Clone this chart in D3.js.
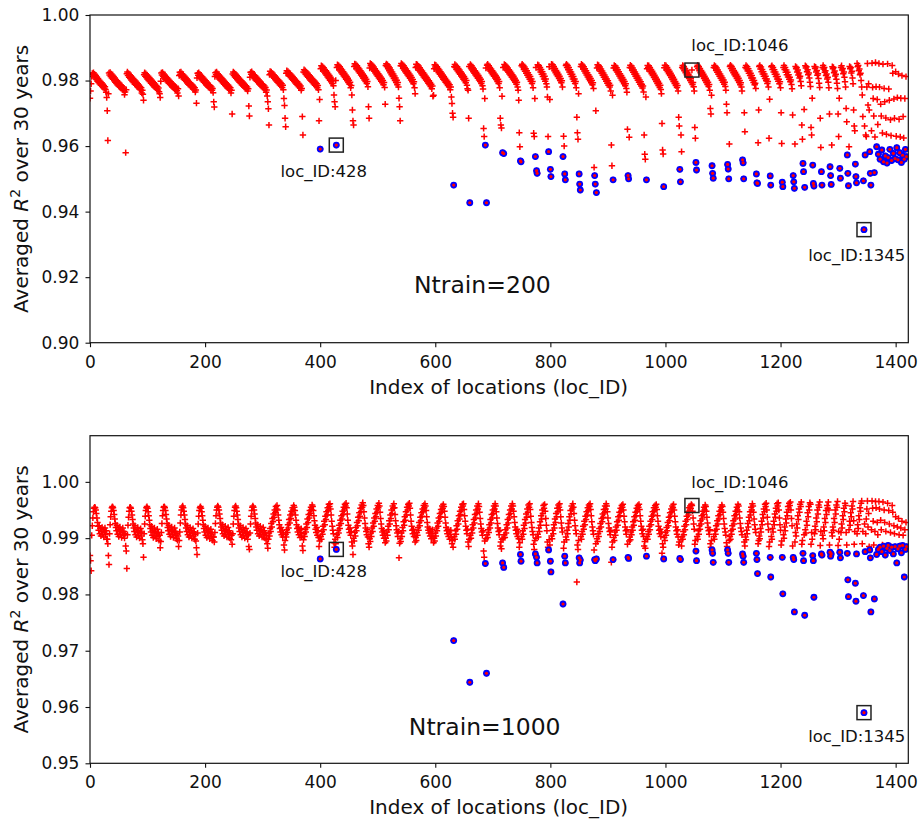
<!DOCTYPE html>
<html>
<head>
<meta charset="utf-8">
<script src="https://cdn.jsdelivr.net/npm/d3@7"></script>
<style>
  body { margin: 0; background: #fff; }
  svg { display: block; }
  text { font-family: "DejaVu Sans", sans-serif; fill: #111; }
</style>
</head>
<body>
<svg id="chart" width="919" height="821"></svg>
<script>
// Averaged R² over 30 years per location, stored as R² × 10⁴.
// Each block is [first loc_ID, values for consecutive loc_IDs].
const blocksNtrain200 = [
  [0,    [9746,9768,9790,9812,9822,9818,9824,9813,9819,9808,9815,9803,9811,9798,9806,9794,9801,9790,9797,9786,9793,9782,9789,9779,9785,9776,9781,9773,9764,9748]],
  [30,   [9708,9617,9760,9823,9817,9825,9812,9820,9808,9816,9804,9812,9799,9808,9795,9803,9791,9799,9787,9795,9783,9791,9780,9787,9776,9784,9773,9780,9770,9776,9757,9765]],
  [62,   [9580,9772,9821,9826,9815,9822,9810,9818,9806,9814,9802,9810,9797,9806,9793,9802,9789,9798,9786,9794,9782,9790,9779,9786,9775,9782,9772,9778,9762,9770]],
  [92,   [9758,9740,9818,9824,9813,9821,9809,9817,9805,9813,9800,9809,9796,9805,9792,9801,9788,9797,9785,9793,9781,9789,9778,9785,9774,9781,9771,9777,9766,9760]],
  [122,  [9748,9798,9823,9817,9825,9812,9820,9808,9816,9804,9812,9800,9808,9796,9804,9792,9800,9788,9796,9785,9792,9781,9789,9778,9785,9775,9782,9772,9779,9769,9762,9775]],
  [154,  [9753,9815,9825,9819,9826,9813,9821,9809,9817,9805,9813,9801,9809,9797,9805,9793,9801,9789,9797,9786,9793,9782,9789,9779,9786,9775,9782,9772,9778,9765,9771]],
  [185,  [9731,9808,9822,9816,9824,9811,9819,9807,9815,9803,9811,9799,9807,9795,9803,9791,9799,9787,9795,9784,9791,9780,9787,9777,9784,9773,9780,9770,9776,9763]],
  [215,  [9735,9719,9812,9824,9818,9826,9813,9821,9809,9817,9805,9813,9801,9809,9797,9805,9793,9801,9789,9797,9785,9793,9782,9789,9778,9786,9775,9782,9772,9778,9762,9770]],
  [247,  [9698,9820,9826,9815,9823,9811,9819,9807,9815,9803,9811,9799,9807,9795,9803,9791,9799,9787,9795,9784,9791,9780,9788,9777,9784,9774,9780,9768,9775]],
  [276,  [9722,9692,9810,9825,9819,9827,9814,9822,9810,9818,9806,9814,9802,9810,9798,9806,9794,9802,9790,9798,9787,9794,9783,9790,9779,9787,9776,9783,9773,9779,9764,9771]],
  [308,  [9753,9735,9714,9664,9818,9828,9821,9826,9815,9822,9811,9818,9807,9814,9803,9810,9799,9806,9795,9802,9791,9798,9787,9794,9783,9790,9779,9786,9772]],
  [337,  [9745,9724,9685,9659,9822,9830,9823,9828,9817,9824,9813,9820,9809,9816,9805,9812,9801,9808,9797,9804,9793,9800,9789,9796,9785,9792,9781,9788,9777,9783,9770,9776]],
  [369,  [9690,9634,9826,9833,9824,9830,9819,9826,9814,9822,9810,9818,9806,9814,9802,9810,9798,9806,9794,9802,9790,9798,9786,9794,9782,9790,9778,9785,9772]],
  [398,  [9677,9742,9591,9836,9845,9838,9843,9831,9839,9826,9834,9821,9830,9816,9825,9811,9820,9806,9815,9801,9810,9796,9805,9791,9799,9784]],
  [424,  [9756,9735,9720,9800,9603,9840,9848,9841,9846,9834,9842,9829,9837,9824,9832,9819,9827,9814,9822,9809,9817,9804,9812,9799,9807,9794,9801,9789,9795,9778,9785]],
  [455,  [9756,9710,9677,9664,9843,9851,9844,9849,9837,9845,9832,9840,9827,9835,9822,9830,9817,9825,9812,9820,9807,9815,9802,9810,9797,9804,9791,9797,9781]],
  [484,  [9720,9685,9838,9852,9845,9850,9838,9846,9833,9841,9828,9836,9823,9831,9818,9826,9813,9821,9808,9816,9803,9811,9798,9806,9793,9800,9787,9794,9779]],
  [513,  [9728,9846,9851,9842,9848,9836,9843,9830,9838,9824,9832,9818,9826,9812,9820,9806,9814,9800,9808,9794,9801,9787,9794,9780]],
  [537,  [9746,9720,9677,9845,9852,9844,9849,9837,9845,9832,9840,9827,9835,9822,9830,9817,9825,9812,9820,9807,9815,9802,9809,9796,9803,9790,9796,9778]],
  [565,  [9760,9840,9850,9843,9848,9836,9844,9831,9839,9826,9834,9821,9829,9816,9824,9811,9819,9806,9814,9802,9809,9797,9804,9792,9799,9787,9794,9782,9789,9775,9783,9752]],
  [597,  [9755,9836,9848,9841,9847,9834,9842,9829,9837,9824,9832,9819,9827,9814,9822,9809,9817,9804,9812,9800,9807,9795,9802,9790,9797,9785,9792,9780,9787,9772,9780,9750]],
  [629,  [9730,9700,9688,9481,9842,9849,9840,9846,9834,9842,9829,9837,9824,9832,9819,9827,9814,9822,9809,9817,9804,9812,9799,9806,9793,9800,9786,9775]],
  [657,  [9770,9685,9843,9427,9849,9838,9845,9832,9840,9827,9835,9822,9830,9817,9825,9812,9820,9807,9815,9802,9809,9797,9804,9791,9797,9784,9774]],
  [684,  [9654,9629,9745,9603,9838,9427,9847,9850,9839,9845,9833,9840,9828,9835,9823,9830,9818,9825,9813,9820,9808,9815,9803,9810,9797,9804,9791,9797,9778]],
  [713,  [9685,9664,9655,9752,9580,9840,9577,9849,9842,9847,9835,9843,9830,9838,9825,9833,9820,9828,9815,9823,9810,9818,9805,9813,9800,9807,9795,9801,9789,9795,9780,9770]],
  [745,  [9740,9641,9598,9555,9552,9845,9850,9841,9846,9834,9841,9828,9836,9822,9830,9816,9824,9810,9818,9804,9812,9798,9805,9791,9797,9778]],
  [771,  [9639,9629,9745,9568,9840,9525,9517,9848,9841,9846,9833,9840,9826,9834,9819,9827,9812,9820,9805,9813,9798,9805,9790,9780]],
  [795,  [9750,9629,9583,9842,9742,9529,9507,9850,9843,9848,9836,9843,9830,9837,9824,9831,9818,9825,9812,9819,9806,9813,9800,9806,9793,9799,9780]],
  [822,  [9568,9630,9600,9515,9497,9846,9850,9840,9846,9833,9840,9826,9833,9819,9826,9812,9819,9805,9812,9798,9805,9791,9797,9778]],
  [846,  [9688,9641,9621,9760,9515,9484,9466,9843,9850,9842,9847,9835,9842,9829,9836,9823,9830,9817,9824,9811,9818,9805,9812,9799,9806,9793,9800,9787,9793,9776]],
  [876,  [9535,9510,9484,9708,9458,9838,9848,9841,9846,9834,9841,9828,9835,9822,9829,9816,9823,9810,9817,9804,9811,9798,9805,9792,9799,9786,9792,9780,9786,9768]],
  [906,  [9603,9540,9755,9497,9838,9846,9839,9844,9832,9839,9826,9833,9820,9827,9814,9821,9808,9815,9802,9809,9796,9803,9790,9797,9784,9790,9776,9764]],
  [934,  [9651,9510,9500,9627,9840,9847,9838,9844,9831,9838,9825,9832,9819,9826,9813,9820,9807,9814,9801,9808,9795,9802,9789,9796,9783,9789,9777,9783,9765]],
  [963,  [9634,9575,9560,9750,9497,9836,9846,9840,9845,9833,9840,9827,9834,9821,9828,9815,9822,9809,9816,9803,9810,9797,9804,9791,9798,9785,9792,9779,9786,9773,9760]],
  [994,  [9669,9588,9576,9476,9839,9847,9840,9845,9833,9840,9827,9834,9821,9828,9815,9822,9809,9816,9803,9810,9797,9804,9791,9797,9785,9791,9779,9785,9768]],
  [1023, [9688,9661,9529,9491,9634,9583,9840,9846,9836,9843,9830,9837,9824,9831,9818,9825,9812,9819,9806,9813,9800,9807,9794,9832,9788,9794,9781,9768]],
  [1051, [9657,9624,9550,9527,9842,9847,9837,9843,9830,9837,9824,9831,9818,9825,9812,9819,9806,9813,9800,9807,9794,9801,9788,9795,9782,9788,9770]],
  [1078, [9715,9698,9755,9540,9517,9502,9840,9846,9838,9843,9831,9838,9825,9832,9819,9826,9813,9820,9807,9814,9801,9808,9795,9802,9789,9795,9782,9770]],
  [1106, [9728,9702,9544,9530,9500,9606,9843,9847,9837,9843,9830,9837,9824,9831,9818,9825,9812,9819,9806,9813,9800,9807,9794,9800,9787,9793,9780,9768]],
  [1134, [9558,9549,9500,9702,9644,9840,9846,9836,9842,9829,9836,9822,9829,9815,9822,9808,9815,9801,9808,9794,9800,9787,9792,9776]],
  [1158, [9515,9488,9486,9610,9710,9843,9846,9835,9841,9827,9834,9820,9827,9813,9820,9806,9813,9799,9805,9791,9797,9780]],
  [1180, [9624,9743,9509,9481,9842,9845,9834,9840,9826,9833,9819,9826,9812,9819,9805,9812,9798,9804,9790,9796,9778]],
  [1201, [9702,9608,9490,9476,9840,9846,9834,9840,9825,9832,9818,9825,9811,9818,9804,9810,9796,9802,9788,9775]],
  [1221, [9695,9510,9491,9471,9606,9843,9836,9840,9826,9832,9817,9823,9808,9813,9797,9784]],
  [1237, [9664,9621,9547,9522,9712,9474,9845,9838,9842,9827,9833,9818,9823,9808,9795,9782]],
  [1253, [9657,9634,9746,9542,9486,9478,9843,9837,9841,9826,9831,9816,9821,9806,9792,9779]],
  [1269, [9685,9596,9522,9481,9840,9846,9835,9840,9825,9830,9815,9820,9805,9810,9795,9778]],
  [1285, [9698,9537,9510,9483,9603,9842,9836,9840,9824,9829,9814,9819,9804,9792,9776]],
  [1300, [9698,9629,9746,9532,9502,9840,9845,9832,9837,9821,9826,9810,9796,9780]],
  [1314, [9715,9674,9573,9517,9479,9598,9843,9836,9840,9823,9828,9808,9790]],
  [1327, [9710,9661,9647,9545,9507,9488,9852,9842,9846,9830,9835,9818,9822,9800,9780]],
  [1342, [9756,9690,9494,9345,9661,9573,9634,9629,9780,9852,9725,9790,9710]],
  [1355, [9583,9517,9481,9647,9853,9779,9745,9692,9519,9628,9855,9781,9598,9742,9666]],
  [1370, [9575,9852,9780,9560,9728,9692,9588,9640,9850,9552,9776,9735,9570,9686,9636,9548,9851]],
  [1387, [9565,9774,9740,9590,9680,9632,9556,9846,9822,9578,9744,9685,9562,9827,9630,9595,9748]],
  [1404, [9558,9820,9682,9580,9628,9746,9550,9815,9572,9690,9625,9560,9745,9590,9812,9568]]
];

const blocksNtrain1000 = [
  [0,    [9869,9860,9842,9905,9922,9936,9947,9953,9955,9954,9950,9944,9936,9928,9921,9914,9922,9908,9917,9904,9912,9919,9907,9915,9902,9911,9918,9906,9913,9898]],
  [30,   [9898,9890,9869,9853,9908,9924,9938,9948,9954,9956,9954,9949,9942,9934,9926,9919,9913,9923,9907,9916,9903,9912,9920,9906,9914,9901,9910,9918,9905,9912,9900,9908]],
  [62,   [9886,9877,9846,9906,9923,9937,9948,9954,9955,9953,9948,9941,9933,9925,9918,9912,9922,9906,9915,9902,9911,9919,9905,9913,9900,9909,9917,9904,9911,9897]],
  [92,   [9890,9866,9908,9925,9939,9949,9954,9956,9953,9947,9940,9932,9924,9917,9911,9921,9905,9914,9901,9910,9918,9904,9912,9899,9908,9916,9903,9910,9896,9905]],
  [122,  [9883,9894,9910,9926,9940,9949,9955,9956,9954,9949,9942,9934,9926,9919,9913,9923,9907,9916,9903,9912,9920,9906,9914,9901,9910,9918,9905,9912,9899,9908,9896,9904]],
  [154,  [9885,9896,9911,9927,9941,9950,9955,9957,9954,9948,9941,9933,9925,9918,9912,9922,9906,9915,9902,9911,9919,9905,9913,9900,9909,9917,9904,9911,9898,9907,9895]],
  [185,  [9883,9871,9909,9925,9939,9949,9954,9956,9953,9947,9940,9932,9924,9917,9911,9921,9905,9914,9901,9910,9918,9904,9912,9899,9908,9916,9903,9910,9896,9902]],
  [215,  [9902,9893,9910,9926,9940,9950,9955,9957,9955,9950,9943,9935,9927,9920,9914,9924,9908,9917,9904,9913,9921,9907,9915,9902,9911,9919,9906,9913,9900,9909,9897,9905]],
  [247,  [9889,9908,9925,9939,9949,9955,9957,9954,9948,9941,9933,9925,9918,9912,9922,9906,9915,9902,9911,9919,9905,9913,9900,9909,9917,9904,9911,9898,9906]],
  [276,  [9885,9880,9909,9925,9939,9949,9955,9957,9955,9950,9943,9935,9927,9920,9914,9924,9908,9917,9904,9913,9921,9907,9915,9902,9911,9919,9906,9913,9900,9909,9897,9905]],
  [308,  [9890,9882,9898,9909,9904,9917,9912,9926,9920,9935,9929,9943,9937,9950,9945,9956,9952,9958,9950,9941,9932,9924,9917,9911,9919,9906,9914,9902,9909]],
  [337,  [9888,9879,9896,9907,9902,9915,9910,9924,9918,9933,9927,9941,9935,9948,9943,9954,9950,9958,9955,9949,9941,9932,9924,9917,9911,9920,9906,9914,9901,9910,9917,9904]],
  [369,  [9886,9878,9897,9908,9903,9916,9911,9925,9919,9934,9928,9942,9936,9949,9944,9955,9951,9959,9956,9949,9940,9931,9923,9916,9910,9919,9905,9913,9901]],
  [398,  [9885,9895,9863,9903,9898,9912,9907,9921,9915,9930,9924,9939,9933,9947,9941,9954,9949,9960,9956,9961,9952,9941,9930,9921,9914,9908]],
  [424,  [9892,9884,9898,9890,9880,9906,9901,9914,9909,9923,9917,9932,9926,9940,9934,9948,9942,9955,9950,9960,9957,9962,9954,9943,9932,9923,9916,9910,9918,9905,9912]],
  [455,  [9893,9886,9871,9900,9895,9910,9904,9919,9913,9928,9922,9937,9931,9945,9939,9953,9947,9959,9955,9963,9958,9947,9936,9926,9918,9912,9906,9915,9902]],
  [484,  [9890,9884,9899,9894,9909,9903,9918,9912,9927,9921,9936,9930,9944,9938,9952,9946,9958,9954,9962,9957,9946,9935,9925,9917,9911,9905,9914,9900,9908]],
  [513,  [9892,9900,9895,9911,9905,9921,9915,9931,9925,9941,9935,9950,9944,9957,9953,9961,9954,9942,9931,9922,9915,9909,9903,9912]],
  [537,  [9865,9891,9899,9894,9909,9903,9919,9913,9929,9923,9938,9932,9947,9941,9955,9950,9960,9957,9962,9953,9941,9930,9921,9914,9908,9916,9903,9910]],
  [565,  [9893,9901,9896,9910,9905,9919,9914,9928,9922,9937,9931,9945,9939,9952,9947,9958,9954,9961,9957,9949,9938,9928,9920,9914,9909,9917,9904,9912,9899,9908,9915,9902]],
  [597,  [9892,9900,9895,9909,9904,9918,9913,9927,9921,9936,9930,9944,9938,9951,9946,9957,9953,9960,9956,9948,9937,9927,9919,9913,9908,9916,9903,9911,9898,9907,9914,9901]],
  [629,  [9890,9896,9884,9718,9903,9898,9913,9907,9922,9916,9931,9925,9940,9934,9948,9942,9955,9950,9960,9957,9961,9951,9940,9930,9921,9914,9908,9916]],
  [657,  [9893,9885,9898,9644,9905,9900,9915,9909,9924,9918,9933,9927,9942,9936,9950,9944,9957,9952,9961,9956,9946,9935,9925,9917,9911,9905,9913]],
  [684,  [9877,9866,9895,9855,9899,9660,9906,9901,9915,9910,9924,9918,9933,9927,9942,9936,9950,9944,9957,9952,9961,9957,9947,9936,9926,9918,9912,9906,9914]],
  [713,  [9886,9893,9881,9898,9856,9900,9848,9906,9901,9915,9909,9924,9918,9933,9927,9942,9936,9950,9944,9957,9952,9961,9957,9948,9938,9928,9920,9914,9908,9916,9903,9911]],
  [745,  [9899,9884,9892,9871,9859,9903,9898,9913,9907,9923,9917,9933,9927,9943,9937,9952,9946,9959,9955,9961,9951,9939,9928,9919,9912,9906]],
  [771,  [9889,9880,9896,9872,9900,9866,9856,9907,9902,9918,9912,9929,9923,9940,9934,9950,9944,9958,9953,9960,9948,9935,9923,9913]],
  [795,  [9893,9884,9879,9897,9888,9859,9840,9904,9899,9914,9908,9924,9918,9934,9928,9944,9938,9953,9947,9959,9955,9961,9950,9938,9927,9918,9911]],
  [822,  [9783,9882,9893,9868,9856,9902,9897,9914,9908,9926,9920,9938,9932,9949,9943,9957,9952,9961,9955,9944,9932,9922,9914,9908]],
  [846,  [9822,9888,9880,9896,9865,9856,9861,9903,9898,9912,9907,9921,9916,9930,9924,9939,9933,9947,9941,9954,9949,9959,9956,9961,9951,9940,9929,9920,9913,9907]],
  [876,  [9879,9862,9860,9890,9863,9899,9894,9908,9903,9917,9912,9926,9920,9935,9929,9943,9937,9951,9945,9957,9952,9961,9957,9947,9936,9926,9918,9912,9906,9914]],
  [906,  [9857,9884,9893,9862,9901,9896,9911,9905,9920,9914,9929,9923,9938,9932,9946,9940,9953,9948,9958,9955,9960,9950,9939,9929,9920,9913,9907,9915]],
  [934,  [9889,9866,9864,9895,9902,9897,9911,9906,9920,9914,9929,9923,9938,9932,9946,9940,9953,9948,9958,9955,9960,9951,9940,9930,9921,9914,9908,9916,9903]],
  [963,  [9886,9894,9882,9898,9868,9903,9898,9912,9907,9921,9915,9930,9924,9939,9933,9947,9941,9954,9949,9958,9955,9960,9951,9940,9930,9921,9914,9908,9916,9903,9911]],
  [994,  [9873,9890,9884,9863,9901,9896,9910,9905,9919,9913,9928,9922,9937,9931,9945,9939,9952,9947,9957,9954,9960,9950,9939,9929,9920,9913,9907,9915,9902]],
  [1023, [9888,9893,9864,9862,9897,9886,9903,9898,9912,9906,9921,9915,9930,9924,9939,9933,9947,9941,9954,9949,9957,9953,9960,9958,9948,9936,9925,9916]],
  [1051, [9889,9896,9877,9860,9903,9898,9913,9907,9922,9916,9931,9925,9940,9934,9948,9942,9955,9950,9959,9956,9948,9937,9927,9919,9913,9907,9915]],
  [1078, [9890,9884,9896,9879,9873,9857,9903,9898,9913,9907,9922,9916,9931,9925,9940,9934,9948,9942,9955,9950,9959,9956,9946,9935,9925,9917,9911,9905]],
  [1106, [9892,9885,9879,9873,9857,9896,9903,9898,9913,9907,9922,9916,9931,9925,9940,9934,9948,9942,9955,9950,9960,9957,9947,9936,9926,9918,9912,9906]],
  [1134, [9872,9868,9857,9893,9886,9902,9897,9914,9908,9926,9920,9937,9931,9947,9941,9955,9950,9961,9957,9946,9934,9924,9916,9910]],
  [1158, [9873,9862,9837,9890,9896,9904,9899,9917,9911,9930,9924,9942,9936,9952,9947,9960,9956,9962,9950,9937,9925,9915]],
  [1180, [9885,9893,9866,9831,9903,9898,9917,9911,9930,9924,9943,9937,9953,9948,9961,9957,9963,9950,9936,9924,9914]],
  [1201, [9888,9895,9866,9801,9906,9900,9920,9913,9934,9927,9946,9940,9956,9951,9962,9958,9964,9950,9935,9922]],
  [1221, [9886,9866,9862,9769,9893,9910,9904,9925,9918,9940,9933,9952,9946,9960,9956,9964]],
  [1237, [9889,9896,9873,9860,9906,9763,9915,9909,9930,9923,9945,9938,9956,9950,9963,9960]],
  [1253, [9889,9910,9898,9869,9860,9795,9908,9921,9915,9936,9929,9950,9943,9959,9955,9964]],
  [1269, [9887,9912,9872,9870,9905,9899,9920,9913,9935,9928,9949,9942,9958,9953,9964,9950]],
  [1285, [9888,9875,9868,9872,9910,9904,9920,9914,9935,9928,9950,9943,9959,9955,9965]],
  [1300, [9887,9912,9898,9875,9865,9910,9925,9918,9940,9933,9953,9947,9962,9958]],
  [1314, [9910,9888,9873,9826,9796,9915,9930,9923,9945,9938,9957,9952,9965]],
  [1327, [9931,9889,9912,9820,9788,9872,9908,9924,9917,9940,9933,9954,9948,9962,9966]],
  [1342, [9890,9912,9798,9590,9925,9876,9908,9934,9952,9966,9920,9944,9885]],
  [1355, [9879,9865,9769,9915,9966,9953,9930,9888,9792,9912,9965,9954,9871,9928,9906]],
  [1370, [9880,9965,9952,9884,9932,9915,9876,9888,9964,9886,9950,9928,9870,9912,9886,9882,9962]],
  [1387, [9887,9949,9925,9878,9910,9885,9884,9958,9946,9872,9922,9908,9885,9938,9883,9856,9920]],
  [1404, [9881,9935,9906,9886,9884,9918,9874,9930,9887,9905,9882,9831,9915,9880,9928,9885]]
];

// Locations singled out with a blue circle in both panels
const flaggedLocs = [400,428,632,660,687,689,717,719,748,749,774,776,777,797,800,801,822,825,826,
  850,851,852,877,878,880,909,935,936,967,997,1025,1026,1053,1054,1081,1082,1083,1108,1109,1110,
  1134,1135,1136,1158,1159,1160,1182,1183,1203,1204,1222,1223,1224,1239,1240,1242,1256,1257,1258,
  1271,1272,1286,1287,1288,1303,1304,1316,1317,1318,1330,1331,1332,1344,1345,1347,1355,1356,1357,
  1363,1367,1370,1373,1376,1379,1382,1385,1387,1390,1393,1396,1399,1402,1404,1407,1410,1412,1415,
  1417,1419];

// Locations highlighted with a square and a loc_ID label
const markedLocs = [428, 1046, 1345];

const xTicks = [0, 200, 400, 600, 800, 1000, 1200, 1400];
const yTicksNtrain200 = [0.90, 0.92, 0.94, 0.96, 0.98, 1.00];
const yTicksNtrain1000 = [0.95, 0.96, 0.97, 0.98, 0.99, 1.00];
const panelTitles = ["Ntrain=200", "Ntrain=1000"];

// Unpack the blocks into one value per loc_ID
function expand(blocks) {
  const out = [];
  blocks.forEach(([start, vals]) => vals.forEach((v, k) => { out[start + k] = v / 1e4; }));
  return out;
}

const svg = d3.select("#chart");
const X_LEFT = 90, X_RIGHT = 908.3;
const x = d3.scaleLinear().domain([0, 1422]).range([X_LEFT, X_RIGHT]);

const panels = [
  { values: expand(blocksNtrain200), top: 15, bottom: 342.7, yDomain: [0.90, 1.00],
    yTicks: yTicksNtrain200, title: panelTitles[0], titleAt: [563, 0.9152],
    labelAt: [[331, 0.9506], [1045, 0.9890], [1248, 0.9249]] },
  { values: expand(blocksNtrain1000), top: 435.7, bottom: 763.3, yDomain: [0.95, 1.0082],
    yTicks: yTicksNtrain1000, title: panelTitles[1], titleAt: [554, 0.95496],
    labelAt: [[331, 0.98307], [1045, 0.99883], [1248, 0.95377]] }
];

const defs = svg.append("defs");

panels.forEach((p, i) => {
  const y = d3.scaleLinear().domain(p.yDomain).range([p.bottom, p.top]);
  const g = svg.append("g");

  const clipId = "plot-clip-" + i;
  defs.append("clipPath").attr("id", clipId)
    .append("rect")
    .attr("x", X_LEFT).attr("y", p.top)
    .attr("width", X_RIGHT - X_LEFT).attr("height", p.bottom - p.top);

  const plot = g.append("g").attr("clip-path", `url(#${clipId})`);

  // every location: red plus
  const pts = p.values.map((v, loc) => ({ loc, v })).filter(d => d.v !== undefined);
  plot.append("g").selectAll("path")
    .data(pts)
    .join("path")
    .attr("transform", d => `translate(${x(d.loc)},${y(d.v)})`)
    .attr("d", "M-3.2,0H3.2M0,-3.2V3.2")
    .attr("stroke", "#ff0000")
    .attr("stroke-width", 1.5)
    .attr("fill", "none");

  // flagged locations: blue circle with red centre
  const flagged = flaggedLocs.map(loc => ({ loc, v: p.values[loc] })).filter(d => d.v !== undefined);
  plot.append("g").selectAll("circle")
    .data(flagged)
    .join("circle")
    .attr("cx", d => x(d.loc)).attr("cy", d => y(d.v))
    .attr("r", 3.4)
    .attr("fill", "#0000ff");
  plot.append("g").selectAll("circle")
    .data(flagged)
    .join("circle")
    .attr("cx", d => x(d.loc)).attr("cy", d => y(d.v))
    .attr("r", 1.6)
    .attr("fill", "#ff0000");

  // highlighted locations: square outline and label
  const marked = markedLocs.map((loc, k) => ({ loc, v: p.values[loc], at: p.labelAt[k] }));
  g.append("g").selectAll("rect")
    .data(marked)
    .join("rect")
    .attr("x", d => x(d.loc) - 7).attr("y", d => y(d.v) - 7)
    .attr("width", 14).attr("height", 14)
    .attr("fill", "none")
    .attr("stroke", "#222")
    .attr("stroke-width", 1.5);
  g.append("g").selectAll("text")
    .data(marked)
    .join("text")
    .attr("x", d => x(d.at[0])).attr("y", d => y(d.at[1]))
    .attr("font-size", 16.5)
    .text(d => "loc_ID:" + d.loc);

  // panel title
  g.append("text")
    .attr("x", x(p.titleAt[0])).attr("y", y(p.titleAt[1]))
    .attr("font-size", 23.5)
    .text(p.title);

  // axes
  const xAxis = g.append("g")
    .attr("transform", `translate(0,${p.bottom})`)
    .call(d3.axisBottom(x).tickValues(xTicks).tickSize(4.5).tickSizeOuter(0).tickPadding(8.3)
      .tickFormat(d3.format("d")));
  const yAxis = g.append("g")
    .attr("transform", `translate(${X_LEFT},0)`)
    .call(d3.axisLeft(y).tickValues(p.yTicks).tickSize(4.5).tickSizeOuter(0).tickPadding(6.2)
      .tickFormat(d3.format(".2f")));
  [xAxis, yAxis].forEach(a => {
    a.select(".domain").remove();
    a.selectAll(".tick line").attr("stroke", "#111").attr("stroke-width", 1.1);
    a.selectAll(".tick text").attr("font-size", 17).attr("fill", "#111")
      .attr("font-family", "DejaVu Sans, sans-serif");
  });

  // frame
  g.append("rect")
    .attr("x", X_LEFT).attr("y", p.top)
    .attr("width", X_RIGHT - X_LEFT).attr("height", p.bottom - p.top)
    .attr("fill", "none")
    .attr("stroke", "#111")
    .attr("stroke-width", 1.2);

  // axis titles
  g.append("text")
    .attr("x", (X_LEFT + X_RIGHT) / 2 - 0.5)
    .attr("y", p.bottom + 51)
    .attr("text-anchor", "middle")
    .attr("font-size", 20)
    .text("Index of locations (loc_ID)");

  const yl = g.append("text")
    .attr("transform", `translate(28,${(p.top + p.bottom) / 2}) rotate(-90)`)
    .attr("text-anchor", "middle")
    .attr("font-size", 20);
  yl.append("tspan").text("Averaged ");
  yl.append("tspan").attr("font-style", "italic").text("R");
  yl.append("tspan").attr("font-size", 14).attr("dy", -8).text("2");
  yl.append("tspan").attr("dy", 8).text(" over 30 years");
});
</script>
</body>
</html>
